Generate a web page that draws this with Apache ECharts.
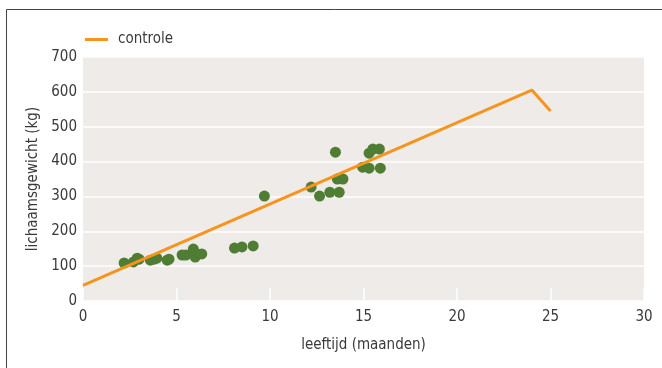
<!DOCTYPE html>
<html>
<head>
<meta charset="utf-8">
<script src="https://cdn.jsdelivr.net/npm/echarts@6/dist/echarts.min.js"></script>
<style>
  html, body { margin: 0; padding: 0; background: #fff; }
  #chart { width: 662px; height: 368px; }
</style>
</head>
<body>
<div id="chart"></div>
<script>
// leeftijd (maanden) en gewicht (kg) van de gemeten dieren
var leeftijdPunten = [2.2, 2.7, 2.9, 3.0, 3.6, 3.8, 3.95, 4.5, 4.6, 5.3, 5.5, 5.9, 6.0, 6.1, 6.35,
  8.1, 8.5, 9.1, 9.7, 12.2, 12.65, 13.2, 13.7, 13.5, 13.6, 13.9, 14.95, 15.3, 15.9, 15.3, 15.5, 15.85];
var gewichtPunten = [109, 112, 123, 120, 117, 120, 123, 117, 120, 132, 132, 149, 126, 135, 135,
  152, 155, 158, 301, 327, 301, 312, 312, 427, 350, 350, 384, 381, 381, 424, 436, 436];

// controlelijn
var controleLeeftijd = [0, 24, 25];
var controleGewicht = [45, 605, 545];

var fontFam = '"Liberation Sans Narrow", "DejaVu Sans Condensed", "Roboto", sans-serif';
var tekstKleur = '#3a3a3a';

var punten = leeftijdPunten.map(function (x, i) { return [x, gewichtPunten[i]]; });
var lijn = controleLeeftijd.map(function (x, i) { return [x, controleGewicht[i]]; });

var myChart = echarts.init(document.getElementById('chart'));
myChart.setOption({
  animation: false,
  backgroundColor: '#fff',
  textStyle: { fontFamily: fontFam },
  graphic: [{
    type: 'rect',
    shape: { x: 6.5, y: 9.5, width: 700, height: 400 },
    style: { fill: 'none', stroke: '#444', lineWidth: 1 },
    silent: true
  }],
  legend: {
    data: [{ name: 'controle', icon: 'rect' }],
    left: 80,
    top: 27,
    itemWidth: 23,
    itemHeight: 3,
    textStyle: { fontSize: 15, color: tekstKleur, fontFamily: fontFam, padding: [0, 0, 0, 5] }
  },
  grid: {
    left: 83, right: 18, top: 57, bottom: 67,
    show: true, backgroundColor: '#eeebe8', borderWidth: 0
  },
  xAxis: {
    type: 'value',
    min: 0, max: 30, interval: 5,
    name: 'leeftijd (maanden)',
    nameLocation: 'middle',
    nameGap: 37,
    nameTextStyle: { fontSize: 15, color: tekstKleur, fontFamily: fontFam },
    axisLine: { show: false },
    axisTick: { show: true, inside: true, length: 13, lineStyle: { color: '#fff', width: 1.5 } },
    splitLine: { show: false },
    axisLabel: { fontSize: 15, color: tekstKleur, margin: 9, fontFamily: fontFam }
  },
  yAxis: {
    type: 'value',
    min: 0, max: 700, interval: 100,
    name: 'lichaamsgewicht (kg)',
    nameLocation: 'middle',
    nameGap: 42,
    nameTextStyle: { fontSize: 15, color: tekstKleur, fontFamily: fontFam },
    axisLine: { show: false },
    axisTick: { show: false },
    splitLine: { lineStyle: { color: '#fff', width: 1.5 } },
    axisLabel: { fontSize: 15, color: tekstKleur, margin: 6, fontFamily: fontFam }
  },
  series: [
    {
      type: 'scatter',
      data: punten,
      symbolSize: 11,
      itemStyle: { color: '#4e7d33', opacity: 1 },
      z: 2
    },
    {
      name: 'controle',
      type: 'line',
      data: lijn,
      symbol: 'none',
      lineStyle: { color: '#f7941d', width: 3 },
      itemStyle: { color: '#f7941d' },
      z: 3
    }
  ]
});
</script>
</body>
</html>
